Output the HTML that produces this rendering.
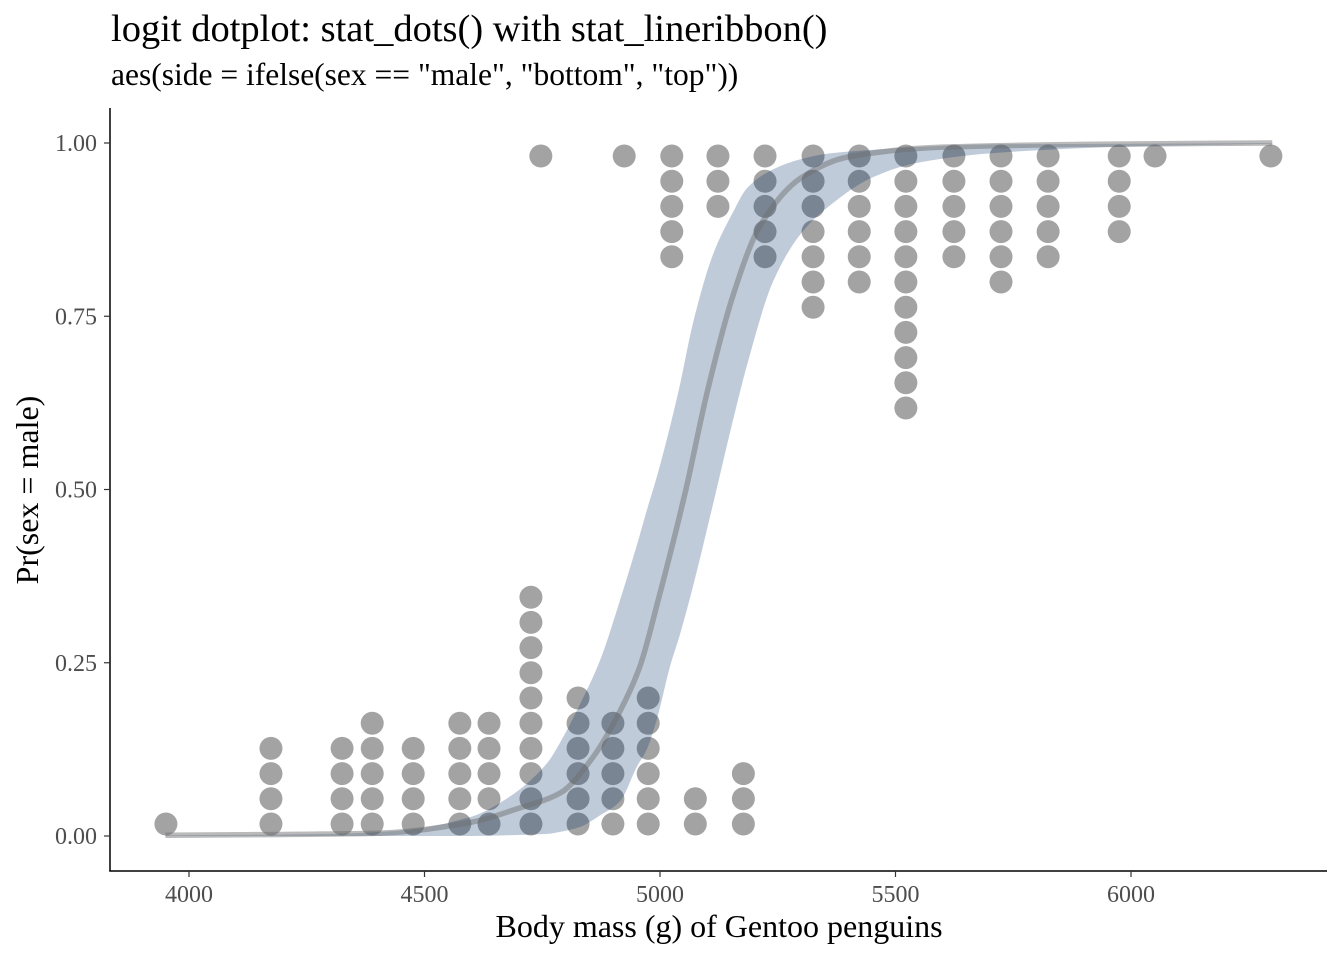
<!DOCTYPE html>
<html><head><meta charset="utf-8"><style>
html,body{margin:0;padding:0;background:#fff;}
svg{display:block;font-family:"Liberation Serif",serif;}
</style></head><body>
<svg id="chart" width="1344" height="960" viewBox="0 0 1344 960" xmlns="http://www.w3.org/2000/svg">
<text x="111" y="41" font-size="38.5" fill="#000">logit dotplot: stat_dots() with stat_lineribbon()</text>
<text x="111" y="85" font-size="31.5" fill="#000">aes(side = ifelse(sex == "male", "bottom", "top"))</text>
<g id="dots"></g>
<g id="ribbon"></g>
<g id="axes"></g>
<text x="719" y="937" font-size="32" text-anchor="middle" fill="#000">Body mass (g) of Gentoo penguins</text>
<text transform="translate(38,490) rotate(-90)" font-size="32" text-anchor="middle" fill="#000">Pr(sex = male)</text>
</svg>
<script>
const xTicks = [4000, 4500, 5000, 5500, 6000];
const yTicks = [0, 0.25, 0.5, 0.75, 1];
const yTickLabels = ["0.00", "0.25", "0.50", "0.75", "1.00"];
const femaleMass = [3951, 4174, 4325, 4389, 4476, 4575, 4637, 4726, 4826, 4900, 4975, 5075, 5177];
const femaleCount = [1, 4, 4, 5, 4, 5, 5, 10, 6, 5, 6, 2, 3];
const maleMass = [4747, 4924, 5025, 5123, 5223, 5325, 5423, 5522, 5624, 5724, 5824, 5975, 6051, 6297];
const maleCount = [1, 1, 5, 3, 5, 7, 6, 11, 5, 6, 5, 4, 1, 1];
const lineMass = [3950, 4400, 4600, 4700, 4788, 4858, 4915, 4957, 4996, 5055, 5100, 5155, 5212, 5300, 5400, 5600, 5900, 6300];
const lineP = [0.001, 0.004, 0.02, 0.04, 0.062, 0.114, 0.18, 0.244, 0.34, 0.5, 0.64, 0.78, 0.88, 0.95, 0.98, 0.994, 0.998, 1];
const ribbonMass = [3950, 4300, 4450, 4600, 4677, 4760, 4788, 4830, 4873, 4915, 4951, 4972, 4994, 5021, 5042, 5070, 5113, 5155, 5185, 5240, 5300, 5361, 5450, 5537, 5700, 6000, 6300];
const ribbonHigh = [0.001, 0.003, 0.008, 0.028, 0.055, 0.105, 0.135, 0.19, 0.254, 0.34, 0.42, 0.47, 0.52, 0.59, 0.65, 0.74, 0.84, 0.90, 0.935, 0.962, 0.977, 0.985, 0.99, 0.994, 0.998, 0.999, 1];
const ribbonLow = [0, 0, 0, 0, 0.001, 0.003, 0.006, 0.013, 0.03, 0.05, 0.10, 0.125, 0.17, 0.244, 0.29, 0.36, 0.48, 0.60, 0.68, 0.80, 0.87, 0.91, 0.95, 0.97, 0.985, 0.995, 0.999];

const NS = "http://www.w3.org/2000/svg";
const xScale = m => 189 + (m - 4000) * (1131 - 189) / 2000;
const yScale = p => 836 - p * (836 - 143);
const DOT_R = 11.5, DOT_STEP = 25.2;

function mk(tag, attrs, parent) {
  const el = document.createElementNS(NS, tag);
  for (const k in attrs) el.setAttribute(k, attrs[k]);
  parent.appendChild(el);
  return el;
}
function monoSegs(pts) {
  const n = pts.length, dx = [], s = [], m = [];
  for (let i = 0; i < n - 1; i++) { dx[i] = pts[i+1][0] - pts[i][0]; s[i] = (pts[i+1][1] - pts[i][1]) / dx[i]; }
  m[0] = s[0]; m[n-1] = s[n-2];
  for (let i = 1; i < n - 1; i++) m[i] = (s[i-1] * s[i] <= 0) ? 0 : 3 * (dx[i-1] + dx[i]) / ((2*dx[i] + dx[i-1]) / s[i-1] + (dx[i] + 2*dx[i-1]) / s[i]);
  const segs = [];
  for (let i = 0; i < n - 1; i++) {
    const h = dx[i] / 3;
    segs.push([pts[i][0] + h, pts[i][1] + m[i]*h, pts[i+1][0] - h, pts[i+1][1] - m[i+1]*h, pts[i+1][0], pts[i+1][1]]);
  }
  return segs;
}
function segStr(c) { return " C" + c[0] + "," + c[1] + " " + c[2] + "," + c[3] + " " + c[4] + "," + c[5]; }

const dotsG = document.getElementById("dots");
femaleMass.forEach((m, i) => {
  for (let k = 0; k < femaleCount[i]; k++) {
    const c = mk("circle", {cx: xScale(m), cy: yScale(0) - 12 - k * DOT_STEP, r: DOT_R, fill: "#a3a3a3"}, dotsG);
    
    
  }
});
maleMass.forEach((m, i) => {
  for (let k = 0; k < maleCount[i]; k++) {
    const c = mk("circle", {cx: xScale(m), cy: yScale(1) + 13 + k * DOT_STEP, r: DOT_R, fill: "#a3a3a3"}, dotsG);
    
    
  }
});

const ribG = document.getElementById("ribbon");
const hi = ribbonMass.map((m, i) => [xScale(m), yScale(ribbonHigh[i])]);
const lo = ribbonMass.map((m, i) => [xScale(m), yScale(ribbonLow[i])]);
let d = "M" + hi[0][0] + "," + hi[0][1] + monoSegs(hi).map(segStr).join("");
const loSegs = monoSegs(lo);
d += " L" + lo[lo.length-1][0] + "," + lo[lo.length-1][1];
for (let i = loSegs.length - 1; i >= 0; i--) {
  const c = loSegs[i];
  d += " C" + c[2] + "," + c[3] + " " + c[0] + "," + c[1] + " " + lo[i][0] + "," + lo[i][1];
}
d += " Z";
const rib = mk("path", {d: d, fill: "rgb(0,44,105)", "fill-opacity": 0.247}, ribG);


const lp = lineMass.map((m, i) => [xScale(m), yScale(lineP[i])]);
const line = mk("path", {d: "M" + lp[0][0] + "," + lp[0][1] + monoSegs(lp).map(segStr).join(""), fill: "none", stroke: "#6e6e6e", "stroke-opacity": 0.48, "stroke-width": 5.5}, ribG);



const ax = document.getElementById("axes");
const yl = mk("line", {x1: 110, y1: 108, x2: 110, y2: 871.5, stroke: "#000", "stroke-width": 1.5}, ax);


const xl = mk("line", {x1: 109.3, y1: 871, x2: 1327, y2: 871, stroke: "#000", "stroke-width": 1.5}, ax);


xTicks.forEach(t => {
  const tk = mk("line", {x1: xScale(t), y1: 871, x2: xScale(t), y2: 877, stroke: "#333", "stroke-width": 1.2}, ax);
  
  
  const lb = mk("text", {x: xScale(t), y: 902, "font-size": 24, "text-anchor": "middle", fill: "#4d4d4d"}, ax);
  lb.textContent = t;
  
  
});
yTicks.forEach((t, i) => {
  const tk = mk("line", {x1: 104, y1: yScale(t), x2: 110, y2: yScale(t), stroke: "#333", "stroke-width": 1.2}, ax);
  
  
  const lb = mk("text", {x: 97, y: yScale(t) + 8, "font-size": 24, "text-anchor": "end", fill: "#4d4d4d"}, ax);
  lb.textContent = yTickLabels[i];
  
  
});
</script>
</body></html>
